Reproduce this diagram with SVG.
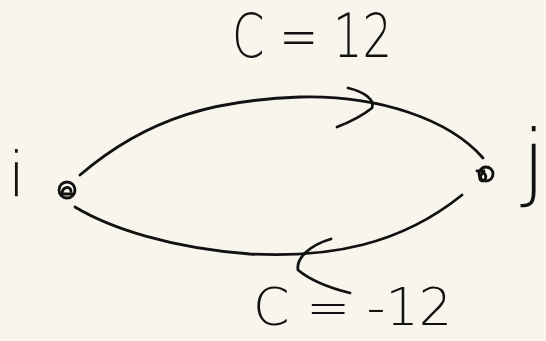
<svg xmlns="http://www.w3.org/2000/svg" width="546" height="341" viewBox="0 0 546 341">
<style>
.ink{fill:none;stroke:#111;stroke-width:2.8;stroke-linecap:round;stroke-linejoin:round}
.lbl{font-family:"DejaVu Sans","Liberation Sans",sans-serif;fill:#111;font-weight:200}
</style>
<rect width="546" height="341" fill="#f8f6ec"/>
<g id="connectors">
<path class="ink" d="M80,175 C150,115 220,100 300,97 C380,95 450,120 483,158"/>
<path class="ink" d="M348,88 C365,92 375,100 372,108 C362,116 350,122 337,127"/>
<path class="ink" d="M75,207 C110,228 170,248 250,254 C330,258 400,245 462,195"/>
<path class="ink" d="M331,239 C310,245 296,258 298,270 C310,280 330,288 350,293"/>
</g>
<g id="node-i">
<circle class="ink" cx="67" cy="190" r="8"/>
<path class="ink" d="M62,194 C62,187 70,185 71,191 M61,194 L73,194" stroke-width="2"/>
<text class="lbl" x="8" y="196" font-size="62">i</text>
</g>
<g id="node-j">
<circle class="ink" cx="486" cy="174" r="7"/>
<path class="ink" d="M477,171 L484,171 C480,176 478,180 482,181 C486,181 487,176 484,173" stroke-width="2"/>
<text class="lbl" x="522" y="190" font-size="84">j</text>
</g>
<g id="label-top">
<text class="lbl" x="232" y="57" font-size="60" textLength="160" lengthAdjust="spacingAndGlyphs">C = 12</text>
</g>
<g id="label-bottom">
<text class="lbl" x="253" y="325" font-size="52" textLength="199" lengthAdjust="spacingAndGlyphs">C = -12</text>
</g>
</svg>
